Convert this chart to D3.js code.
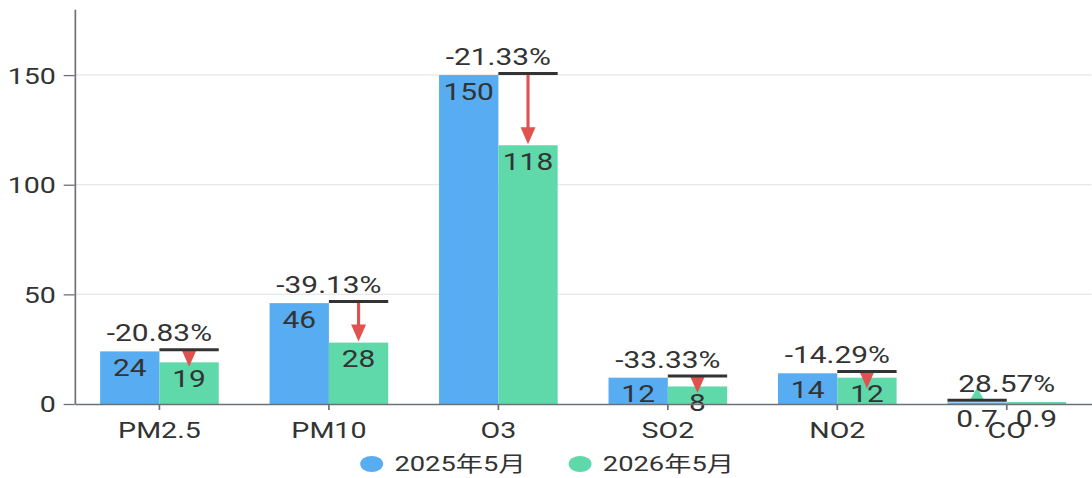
<!DOCTYPE html>
<html><head><meta charset="utf-8">
<script src="https://cdn.jsdelivr.net/npm/d3@7"></script>
<style>
html,body{margin:0;padding:0;background:#fff;}
svg{display:block;}
text{font-family:Roboto,"Noto Sans CJK SC",sans-serif;fill:#333;}
</style></head>
<body>
<script>
const categories = ['PM2.5','PM10','O3','SO2','NO2','CO'];
const values2025 = [24,46,150,12,14,0.7];
const values2026 = [19,28,118,8,12,0.9];
const seriesNames = ['2025年5月','2026年5月'];
const yTicks = [0,50,100,150];
const yMax = 180;

const W = 1092, H = 478, SX = 1.3;
const VW = W / SX;
const colors = {blue:'#58acf1', green:'#5fd8aa', red:'#e0524f', line:'#333333', axis:'#6e7079', grid:'#e0e0e0'};

const svg = d3.select('body').append('svg')
  .attr('width', W).attr('height', H)
  .attr('viewBox', `0 0 ${VW} ${H}`)
  .attr('preserveAspectRatio','none');

const left = 74.7 / SX, right = 1091.5 / SX;
const y0 = 404, yTop = 9.3;

const x = d3.scaleBand().domain(categories).range([left, right]).paddingInner(0).paddingOuter(0);
const y = d3.scaleLinear().domain([0, yMax]).range([y0, yTop]);
const bw = x.bandwidth() * 0.35;
const gapOuter = x.bandwidth() * 0.15;

// grid
svg.append('g').selectAll('line').data(yTicks.filter(d => d > 0)).join('line')
  .attr('x1', left).attr('x2', right).attr('y1', d => y(d)).attr('y2', d => y(d))
  .attr('stroke', colors.grid).attr('stroke-width', 1);

// y axis
const yAxis = d3.axisLeft(y).tickValues(yTicks).tickSize(8.5).tickSizeOuter(0).tickPadding(6).tickFormat(d3.format('d'));
const gy = svg.append('g').attr('transform', `translate(${left},0)`).call(yAxis);
gy.select('.domain').attr('stroke', colors.axis).attr('stroke-width', 1.3);
gy.selectAll('.tick line').attr('stroke', colors.axis).attr('stroke-width', 1.3);
gy.selectAll('.tick text').attr('font-size', 22).attr('fill', '#333').attr('dy', '0.36em')
  .style('font-family', 'Roboto, sans-serif');

// bars
const data = categories.map((c, i) => ({c, a: values2025[i], b: values2026[i]}));
const g = svg.append('g');
g.selectAll('rect.a').data(data).join('rect').attr('class','a')
  .attr('x', d => x(d.c) + gapOuter).attr('width', bw)
  .attr('y', d => y(d.a)).attr('height', d => y0 - y(d.a)).attr('fill', colors.blue);
g.selectAll('rect.b').data(data).join('rect').attr('class','b')
  .attr('x', d => x(d.c) + gapOuter + bw).attr('width', bw)
  .attr('y', d => y(d.b)).attr('height', d => y0 - y(d.b)).attr('fill', colors.green);

// x axis
const xAxis = d3.axisBottom(x).tickSize(6).tickSizeOuter(0).tickPadding(12);
const gx = svg.append('g').attr('transform', `translate(0,${y0})`).call(xAxis);
gx.select('.domain').attr('stroke', colors.axis).attr('stroke-width', 1.3);
gx.selectAll('.tick line').attr('stroke', colors.axis).attr('stroke-width', 1.3);
gx.selectAll('.tick text').attr('font-size', 22).attr('fill', '#333').attr('dy', '0.71em')
  .style('font-family', 'Roboto, sans-serif');

// bar value labels
const fmt = v => String(v);
g.selectAll('text.la').data(data).join('text').attr('class','la')
  .attr('x', d => x(d.c) + gapOuter + bw / 2).attr('y', d => y(d.a) + 24.5)
  .attr('text-anchor','middle').attr('font-size', 23).text(d => fmt(d.a));
g.selectAll('text.lb').data(data).join('text').attr('class','lb')
  .attr('x', d => x(d.c) + gapOuter + bw * 1.5).attr('y', d => y(d.b) + 24.5)
  .attr('text-anchor','middle').attr('font-size', 23).text(d => fmt(d.b));

// change markers
const headLen = 17, headW = 11.5;
data.forEach(d => {
  const dec = d.b < d.a;
  const top = Math.max(d.a, d.b);
  const ly = y(top) - 1.7;
  const barX = dec ? x(d.c) + gapOuter + bw : x(d.c) + gapOuter;
  const cx = barX + bw / 2;
  const pct = ((d.b - d.a) / d.a * 100).toFixed(2) + '%';
  if (dec) {
    const tip = Math.max(y(d.b) - 1, ly + headLen);
    svg.append('line').attr('x1', cx).attr('x2', cx).attr('y1', ly).attr('y2', tip - headLen + 2)
      .attr('stroke', colors.red).attr('stroke-width', 2.4);
    svg.append('path').attr('d', `M${cx - headW/2},${tip - headLen} L${cx + headW/2},${tip - headLen} L${cx},${tip} Z`)
      .attr('fill', colors.red);
  } else {
    const base = y(d.a) - 1.7;
    const tip = Math.min(y(d.b), base - 13);
    svg.append('path').attr('d', `M${cx - headW/2},${base} L${cx + headW/2},${base} L${cx},${tip} Z`)
      .attr('fill', colors.green);
  }
  svg.append('line').attr('x1', barX).attr('x2', barX + bw).attr('y1', ly).attr('y2', ly)
    .attr('stroke', colors.line).attr('stroke-width', 3);
  svg.append('text').attr('x', x(d.c) + x.bandwidth() / 2).attr('y', y(top) - 10)
    .attr('text-anchor','middle').attr('font-size', 23).text(pct);
});

// legend
const legendX = [285.9, 446.2];
const legendColors = [colors.blue, colors.green];
const lg = svg.append('g');
seriesNames.forEach((n, i) => {
  lg.append('ellipse').attr('cx', legendX[i]).attr('cy', 464).attr('rx', 8.8).attr('ry', 8)
    .attr('fill', legendColors[i]);
  lg.append('text').attr('x', legendX[i] + 17.5).attr('y', 471.5).attr('font-size', 21).text(n);
});
</script>
</body></html>
